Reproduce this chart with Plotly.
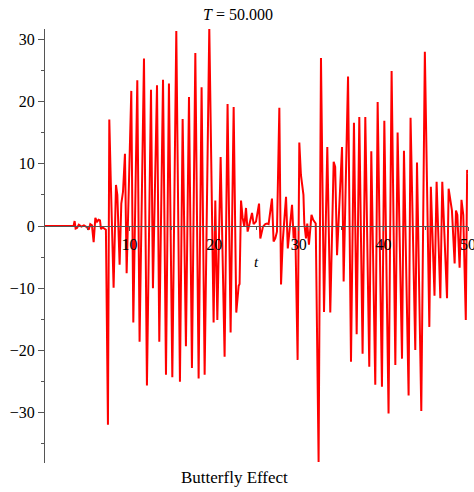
import plotly.graph_objects as go

# Data (t, value)
t_vals = [0, 3.38, 3.50, 3.62, 3.78, 4.0, 4.3, 4.6, 4.96, 5.16, 5.35, 5.55, 5.75, 5.95, 6.15,
          6.34, 6.5, 6.62, 6.8, 7.0, 7.2, 7.44, 7.60, 7.78, 8.11, 8.39, 8.55, 8.82, 9.02, 9.22,
          9.45, 9.65, 10.2, 10.44, 10.91, 11.18, 11.70, 12.05, 12.53, 12.76, 13.24, 13.51, 13.95,
          14.30, 14.65, 15.05, 15.52, 15.95, 16.27, 16.66, 17.02, 17.37, 17.77, 18.16, 18.51,
          18.87, 19.42, 19.93, 20.13, 20.37, 20.76, 21.23, 21.58, 21.94, 22.30, 22.61, 22.89,
          23.0, 23.17, 23.36, 23.56, 23.76, 23.95, 24.15, 24.47, 24.66, 24.94, 25.30, 25.45,
          25.77, 26.04, 26.24, 26.43, 26.83, 27.02, 27.22, 27.42, 27.70, 27.90, 28.1, 28.35,
          28.49, 28.70, 28.90, 29.2, 29.39, 29.58, 29.86, 30.06, 30.25, 30.45, 30.55, 30.65,
          30.85, 31.0, 31.2, 31.5, 31.7, 32.0, 32.34, 32.62, 32.98, 33.37, 33.72, 34.12, 34.3,
          34.52, 35.11, 35.30, 35.82, 36.17, 36.52, 36.84, 37.15, 37.54, 37.86, 38.33, 38.57,
          39.04, 39.32, 39.83, 40.11, 40.61, 40.97, 41.41, 41.68, 42.20, 42.43, 42.98, 43.21,
          43.77, 43.97, 44.48, 44.90, 45.43, 45.61, 46.04, 46.29, 46.73, 46.96, 47.52, 47.71,
          48.1, 48.42, 48.58, 48.74, 49.01, 49.23, 49.44, 49.74, 49.90, 49.97]
x_vals = [0, 0, 0.8, -0.4, -0.3, 0.2, -0.1, 0.1, -0.2, -0.6, 0.3, 0.1, -2.6, 1.3, 0.7,
          1.0, 0.9, -0.5, -0.2, -0.4, -0.6, -31.9, 17.1, 7.0, -9.9, 6.6, 5.0, -6.2, 3.6, 5.5,
          11.6, -7.6, 21.7, -15.5, 23.4, -18.6, 26.9, -25.6, 21.9, -10.0, 22.6, -18.6, 23.5,
          -23.9, 22.9, -24.3, 31.3, -25.0, 17.2, -19.3, 20.7, -22.8, 27.8, -24.5, 22.3,
          -23.9, 31.8, -15.5, 4.1, -15.1, 11.1, -21.0, 19.6, -17.1, 19.1, -13.9, -9.6,
          -9.3, 4.1, 1.3, -0.1, 2.9, -0.9, 0.2, 2.1, 0.3, 0.7, 3.6, -2.0,
          -0.1, 0.3, 0.4, 0.3, 4.4, -2.5, -2.0, -0.9, 19.0, -9.4, -2.5, 2.0,
          4.7, -3.6, -1.0, 3.4, -2.0, -0.2, -21.5, 13.4, 8.2, 5.5, 5.0, 0.4,
          -2.0, 0.4, -3.0, 1.8, 1.0, 0.4, -37.9, 27.0, -13.8, 12.7, -13.9, 10.3, 9.5,
          -4.7, 12.7, -8.9, 24.0, -21.8, 16.6, -17.4, 17.5, -20.5, 17.5, -22.6, 12.0,
          -25.5, 19.9, -25.8, 16.9, -30.1, 24.9, -22.3, 15.0, -21.3, 12.1, -27.2, 17.4,
          -19.9, 10.2, -29.7, 28.0, -16.2, 6.3, -11.2, 7.1, -11.6, 7.1, -11.6, 6.0,
          2.5, -6.0, 2.5, 1.8, -6.7, 4.2, 1.8, -15.1, 9.0, 8.5]

x_ticks = [10, 20, 30, 40, 50]
x_minor = [5, 15, 25, 35, 45]
y_ticks = [-30, -20, -10, 0, 10, 20, 30]
y_minor = [-35, -25, -15, -5, 5, 15, 25]
y_range = [-38.06, 31.64]

title_text = "<i>T</i> = 50.000"
caption_text = "Butterfly Effect"
xlabel_text = "<i>t</i>"

SERIF = "Liberation Serif"
AXIS_COLOR = "#555555"

W, H = 474, 492
PLOT_L, PLOT_R, PLOT_T, PLOT_B = 45, 468, 29, 463  # window pixels
plot_w = PLOT_R - PLOT_L
plot_h = PLOT_B - PLOT_T

fig = go.Figure()
fig.add_trace(go.Scatter(x=t_vals, y=x_vals, mode="lines",
                         line=dict(color="#ff0000", width=2),
                         hoverinfo="skip", showlegend=False))

zero_pos = (0 - y_range[0]) / (y_range[1] - y_range[0])

fig.update_layout(
    width=W, height=H,
    margin=dict(l=PLOT_L, r=W - PLOT_R, t=PLOT_T, b=H - PLOT_B, autoexpand=False),
    paper_bgcolor="white", plot_bgcolor="white",
    font=dict(family=SERIF, size=16, color="#000000"),
    xaxis=dict(range=[0, 50], anchor="free", position=zero_pos, automargin=False,
               ticklabeloverflow="allow",
               showline=True, linecolor=AXIS_COLOR, linewidth=1,
               showgrid=False, zeroline=False,
               tickmode="array", tickvals=x_ticks,
               ticks="outside", ticklen=4, tickcolor=AXIS_COLOR, tickwidth=1,
               minor=dict(tickmode="array", tickvals=x_minor, ticks="outside",
                          ticklen=3, tickcolor=AXIS_COLOR, showgrid=False),
               tickfont=dict(family=SERIF, size=16, color="#000000")),
    yaxis=dict(range=y_range, automargin=False, ticklabeloverflow="allow",
               showline=True, linecolor=AXIS_COLOR, linewidth=1,
               showgrid=False, zeroline=False,
               tickmode="array", tickvals=y_ticks,
               ticks="outside", ticklen=6, tickcolor=AXIS_COLOR, tickwidth=1,
               minor=dict(tickmode="array", tickvals=y_minor, ticks="outside",
                          ticklen=3, tickcolor=AXIS_COLOR, showgrid=False),
               tickfont=dict(family=SERIF, size=16, color="#000000")),
    annotations=[
        dict(text=title_text, xref="paper", yref="paper",
             x=(238 - PLOT_L) / plot_w, y=(PLOT_B - 14.5) / plot_h,
             showarrow=False, xanchor="center", yanchor="middle",
             font=dict(family=SERIF, size=16, color="#000000")),
        dict(text=xlabel_text, xref="paper", yref="paper",
             x=(256 - PLOT_L) / plot_w, y=(PLOT_B - 261.5) / plot_h,
             showarrow=False, xanchor="center", yanchor="middle",
             font=dict(family=SERIF, size=15, color="#000000")),
        dict(text=caption_text, xref="paper", yref="paper",
             x=(234 - PLOT_L) / plot_w, y=(PLOT_B - 478) / plot_h,
             showarrow=False, xanchor="center", yanchor="middle",
             font=dict(family=SERIF, size=17, color="#000000")),
    ],
)

# remove the browser's default 8px body margin so the figure fills the window
fig.write_html("out.html",
               config={"displayModeBar": False},
               post_script="document.body.style.margin='0';document.body.style.overflow='hidden';")
